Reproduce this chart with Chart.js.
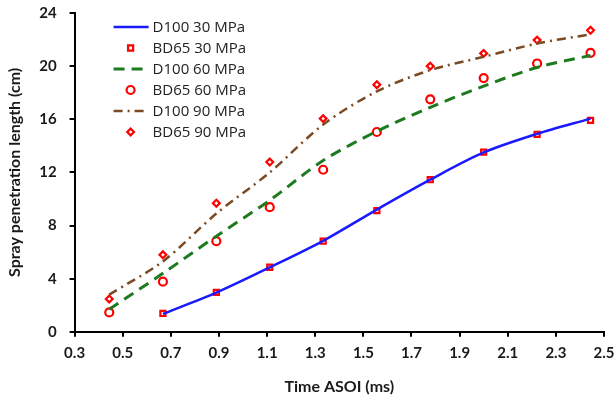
<!DOCTYPE html>
<html>
<head>
<meta charset="utf-8">
<script src="https://cdn.jsdelivr.net/npm/chart.js@4.4.1/dist/chart.umd.min.js"></script>
<style>
  html, body { margin: 0; padding: 0; background: #fff; }
  #wrap { width: 616px; height: 396px; }
</style>
</head>
<body>
<div id="wrap"><canvas id="lineChart" width="616" height="396"></canvas></div>
<script>
// time after start of injection (ms)
const times = [0.444, 0.667, 0.889, 1.111, 1.333, 1.556, 1.778, 2.0, 2.222, 2.444];

// spray penetration length (cm)
const d100_30 = [null, 1.35, 2.95, 4.85, 6.85, 9.2, 11.45, 13.5, 14.9, 16.05];
const bd65_30 = [null, 1.38, 2.97, 4.86, 6.82, 9.13, 11.45, 13.53, 14.87, 15.92];
const d100_60 = [1.7, 4.4, 7.2, 9.9, 12.9, 15.1, 16.9, 18.5, 19.9, 20.8];
const bd65_60 = [1.46, 3.77, 6.82, 9.38, 12.2, 15.04, 17.5, 19.1, 20.2, 21.0];
const d100_90 = [2.8, 5.3, 8.9, 12.0, 15.6, 18.1, 19.7, 20.7, 21.7, 22.4];
const bd65_90 = [2.47, 5.8, 9.68, 12.78, 16.05, 18.6, 20.0, 20.96, 21.96, 22.7];

const xTicks = [0.3, 0.5, 0.7, 0.9, 1.1, 1.3, 1.5, 1.7, 1.9, 2.1, 2.3, 2.5];
const yTicks = [0, 4, 8, 12, 16, 20, 24];

const toPoints = vals => times.map((t, i) => ({ x: t, y: vals[i] }));

const lineSet = (label, vals, color, dash, width) => ({
    label: label,
    data: toPoints(vals),
    borderColor: color,
    borderWidth: width,
    borderDash: dash,
    pointRadius: 0,
    fill: false,
    tension: 0.3,
    isLine: true
});

const markSet = (label, vals, style, radius) => ({
    label: label,
    data: toPoints(vals),
    showLine: false,
    pointStyle: style,
    pointRadius: radius,
    pointBorderColor: '#ff0000',
    pointBackgroundColor: '#ffffff',
    pointBorderWidth: 2.2,
    borderColor: '#ff0000',
    isLine: false
});

// legend drawn inside the plot, top-left
const insideLegend = {
    id: 'insideLegend',
    afterDraw(chart) {
        const ctx = chart.ctx;
        const area = chart.chartArea;
        const x0 = area.left + 39;
        const y0 = area.top + 14;
        const rowH = 21;
        ctx.save();
        chart.data.datasets.forEach((ds, i) => {
            const y = y0 + i * rowH;
            if (ds.isLine) {
                ctx.strokeStyle = ds.borderColor;
                ctx.lineWidth = ds.borderWidth;
                ctx.setLineDash(ds.borderDash || []);
                ctx.beginPath();
                ctx.moveTo(x0, y);
                ctx.lineTo(x0 + 35, y);
                ctx.stroke();
                ctx.setLineDash([]);
            } else {
                ctx.fillStyle = '#ffffff';
                ctx.strokeStyle = ds.pointBorderColor;
                ctx.lineWidth = ds.pointBorderWidth;
                Chart.helpers.drawPoint(ctx, {
                    pointStyle: ds.pointStyle,
                    radius: ds.pointRadius,
                    borderWidth: ds.pointBorderWidth
                }, x0 + 17, y);
            }
            ctx.fillStyle = '#222222';
            ctx.font = '15px "Open Sans"';
            ctx.textBaseline = 'middle';
            ctx.fillText(ds.label, x0 + 39, y + 1);
        });
        ctx.restore();
    }
};

new Chart(document.getElementById('lineChart').getContext('2d'), {
    type: 'line',
    data: {
        datasets: [
            lineSet('D100 30 MPa', d100_30, '#1a1aff', [], 2.5),
            markSet('BD65 30 MPa', bd65_30, 'rect', 3.6),
            lineSet('D100 60 MPa', d100_60, '#1e7a1e', [11, 7], 3),
            markSet('BD65 60 MPa', bd65_60, 'circle', 4),
            lineSet('D100 90 MPa', d100_90, '#7b4a22', [9, 5, 2, 5], 2.5),
            markSet('BD65 90 MPa', bd65_90, 'rectRot', 3.4)
        ]
    },
    options: {
        responsive: false,
        animation: false,
        layout: {
            padding: { top: 0, right: 0, left: 5, bottom: 0 }
        },
        scales: {
            x: {
                type: 'linear',
                min: 0.3,
                max: 2.5,
                afterBuildTicks: axis => { axis.ticks = xTicks.map(v => ({ value: v })); },
                afterFit: axis => { axis.paddingRight = 12; },
                border: { display: true, color: '#000', width: 2 },
                grid: {
                    display: true,
                    drawOnChartArea: false,
                    drawTicks: true,
                    tickLength: 5,
                    color: '#000',
                    lineWidth: 2
                },
                ticks: {
                    color: '#1a1a1a',
                    font: { family: 'Lato', size: 15, weight: 'bold' },
                    padding: 7,
                    maxRotation: 0,
                    callback: v => v.toFixed(1)
                },
                title: {
                    display: true,
                    text: 'Time ASOI (ms)',
                    color: '#1a1a1a',
                    font: { family: 'Lato', size: 16, weight: 'bold' },
                    padding: { top: 8, bottom: 0 }
                }
            },
            y: {
                min: 0,
                max: 24,
                afterBuildTicks: axis => { axis.ticks = yTicks.map(v => ({ value: v })); },
                afterFit: axis => { axis.paddingTop = 13; },
                border: { display: true, color: '#000', width: 2 },
                grid: {
                    display: true,
                    drawOnChartArea: false,
                    drawTicks: true,
                    tickLength: 5,
                    color: '#000',
                    lineWidth: 2
                },
                ticks: {
                    color: '#1a1a1a',
                    font: { family: 'Lato', size: 15, weight: 'bold' },
                    padding: 13
                },
                title: {
                    display: true,
                    text: 'Spray penetration length (cm)',
                    color: '#1a1a1a',
                    font: { family: 'Lato', size: 16, weight: 'bold' },
                    padding: { top: 0, bottom: 2 }
                }
            }
        },
        plugins: {
            legend: { display: false },
            tooltip: { enabled: false }
        }
    },
    plugins: [insideLegend]
});
</script>
</body>
</html>
